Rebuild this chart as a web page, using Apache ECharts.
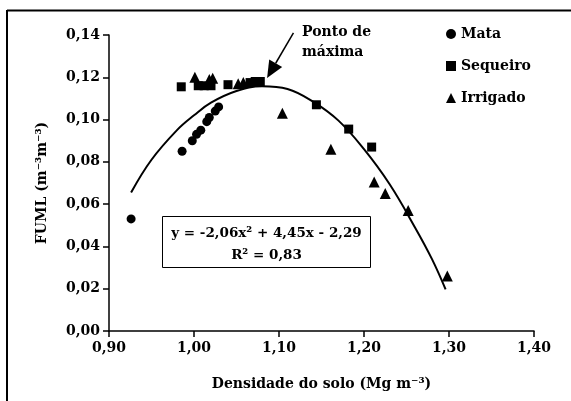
<!DOCTYPE html>
<html><head><meta charset="utf-8">
<script src="https://cdn.jsdelivr.net/npm/echarts@6/dist/echarts.min.js"></script>
<style>html,body{margin:0;padding:0;background:#fff}#c{width:571px;height:401px}</style>
</head><body><div id="c"></div>
<script>
// ---- data ----
const mataX = [0.926, 0.986, 0.998, 1.003, 1.008, 1.015, 1.018, 1.025, 1.029];
const mataY = [0.053, 0.085, 0.090, 0.093, 0.095, 0.099, 0.101, 0.104, 0.106];
const sequeiroX = [0.985, 1.005, 1.012, 1.020, 1.040, 1.066, 1.072, 1.078, 1.144, 1.182, 1.209];
const sequeiroY = [0.1155, 0.116, 0.116, 0.116, 0.1165, 0.1175, 0.118, 0.118, 0.107, 0.0955, 0.087];
const irrigadoX = [1.001, 1.018, 1.022, 1.052, 1.058, 1.104, 1.161, 1.212, 1.225, 1.252, 1.298];
const irrigadoY = [0.120, 0.119, 0.1195, 0.117, 0.1175, 0.103, 0.086, 0.0705, 0.065, 0.057, 0.026];
// fitted curve as drawn
const curveX = [0.926, 0.95, 0.98, 1.00, 1.02, 1.05, 1.08, 1.11, 1.14, 1.17, 1.20, 1.23, 1.26, 1.28, 1.296];
const curveY = [0.0655, 0.081, 0.095, 0.102, 0.108, 0.1135, 0.1158, 0.1145, 0.1085, 0.0995, 0.086, 0.0695, 0.049, 0.034, 0.0197];
const seriesNames = ['Mata', 'Sequeiro', 'Irrigado'];
const equationLines = ['y = -2,06x² + 4,45x - 2,29', 'R² = 0,83'];
const annotationText = 'Ponto de\nmáxima';
const arrowFrom = [1.117, 0.141];
const arrowTo = [1.086, 0.1197];

const FONT = '"DejaVu Serif", "Liberation Serif", serif';
const pair = (xs, ys) => xs.map((x, i) => [x, ys[i]]);
const fmt = v => v.toFixed(2).replace('.', ',');
const txt = {color: '#000', fontFamily: FONT, fontWeight: 'bold', fontSize: 14};

const chart = echarts.init(document.getElementById('c'), null, {renderer: 'canvas'});
const axisCommon = {
  type: 'value',
  axisLine: {show: true, onZero: false, lineStyle: {color: '#000', width: 1.5}},
  axisTick: {show: true, length: 6, lineStyle: {color: '#000', width: 1.5}},
  splitLine: {show: false},
  nameLocation: 'middle',
  nameTextStyle: Object.assign({}, txt)
};
const mk = {color: '#000', opacity: 1};
const option = {
  animation: false,
  backgroundColor: '#fff',
  grid: {left: 109, right: 37, top: 35, bottom: 70},
  xAxis: Object.assign({}, axisCommon, {
    min: 0.9, max: 1.4, interval: 0.1,
    axisLabel: Object.assign({formatter: fmt, margin: 10}, txt),
    name: 'Densidade do solo (Mg m⁻³)', nameGap: 46
  }),
  yAxis: Object.assign({}, axisCommon, {
    min: 0, max: 0.14, interval: 0.02,
    axisLabel: Object.assign({formatter: fmt, margin: 9}, txt),
    name: 'FUML (m⁻³m⁻³)', nameGap: 60
  }),
  legend: {
    orient: 'vertical', left: 441, top: 22,
    itemWidth: 10, itemHeight: 10, itemGap: 18,
    textStyle: Object.assign({}, txt),
    itemStyle: {opacity: 1},
    data: [
      {name: seriesNames[0], icon: 'circle'},
      {name: seriesNames[1], icon: 'rect'},
      {name: seriesNames[2], icon: 'triangle'}
    ]
  },
  series: [
    {type: 'line', name: 'curve', data: pair(curveX, curveY), smooth: 0.4, showSymbol: false, symbol: 'none',
     lineStyle: {color: '#000', width: 2}, z: 1},
    {type: 'scatter', name: seriesNames[0], data: pair(mataX, mataY), symbol: 'circle', symbolSize: 9,
     itemStyle: mk, z: 3},
    {type: 'scatter', name: seriesNames[1], data: pair(sequeiroX, sequeiroY), symbol: 'rect', symbolSize: 9,
     itemStyle: mk, z: 3},
    {type: 'scatter', name: seriesNames[2], data: pair(irrigadoX, irrigadoY), symbol: 'triangle', symbolSize: 11,
     itemStyle: mk, z: 3}
  ]
};
chart.setOption(option);

// annotations (arrow placed through the axes' own scales)
const p0 = chart.convertToPixel({gridIndex: 0}, arrowFrom);
const p1 = chart.convertToPixel({gridIndex: 0}, arrowTo);
const dx = p1[0] - p0[0], dy = p1[1] - p0[1];
const L = Math.sqrt(dx * dx + dy * dy);
const ux = dx / L, uy = dy / L, nx = -uy, ny = ux;
const headLen = 17, headW = 7.5;
const bx = p1[0] - ux * headLen, by = p1[1] - uy * headLen;

chart.setOption({
  graphic: [
    {type: 'line', shape: {x1: 7, y1: 10.5, x2: 571, y2: 10.5}, style: {stroke: '#000', lineWidth: 2}},
    {type: 'line', shape: {x1: 7, y1: 10, x2: 7, y2: 401}, style: {stroke: '#000', lineWidth: 2}},
    {type: 'rect', shape: {x: 162.5, y: 216.5, width: 208, height: 51},
     style: {fill: '#fff', stroke: '#000', lineWidth: 1}, z: 10},
    {type: 'text', x: 266.5, y: 244, z: 11,
     style: {text: equationLines.join('\n'), fill: '#000', fontFamily: FONT, fontWeight: 'bold', fontSize: 13.5,
             lineHeight: 22, textAlign: 'center', textVerticalAlign: 'middle'}},
    {type: 'text', x: 302, y: 22, z: 11,
     style: {text: annotationText, fill: '#000', fontFamily: FONT, fontWeight: 'bold', fontSize: 14,
             lineHeight: 20, textAlign: 'left', textVerticalAlign: 'top'}},
    {type: 'line', shape: {x1: p0[0], y1: p0[1], x2: bx, y2: by}, style: {stroke: '#000', lineWidth: 1.5}, z: 11},
    {type: 'polygon', shape: {points: [[p1[0], p1[1]], [bx + nx * headW, by + ny * headW], [bx - nx * headW, by - ny * headW]]},
     style: {fill: '#000'}, z: 11}
  ]
});
</script>
</body></html>
